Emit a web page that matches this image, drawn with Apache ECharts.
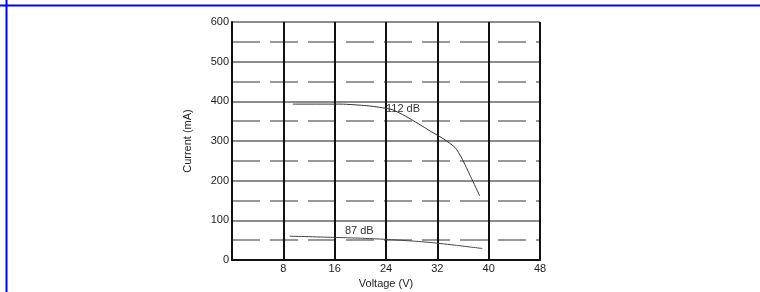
<!DOCTYPE html>
<html>
<head>
<meta charset="utf-8">
<script src="https://cdn.jsdelivr.net/npm/echarts@6/dist/echarts.min.js"></script>
<style>
  html, body { margin: 0; padding: 0; background: #fff; }
  #chart { width: 760px; height: 292px; }
</style>
</head>
<body>
<div id="chart"></div>
<script>
// 112 dB curve
var volt112 = [9.5, 13, 17, 21, 23, 25, 27, 29, 31, 33, 34.8, 35.8, 37.2, 38.6];
var curr112 = [393, 393, 393, 389, 385, 379, 363, 344, 324, 305, 283, 257, 210, 162];
// 87 dB curve
var volt87 = [9, 16, 20, 24, 28, 31, 35, 39];
var curr87 = [60, 57, 55, 52, 48, 44, 37, 29];

var xTicks = [0, 8, 16, 24, 32, 40, 48];
var yTicks = [0, 100, 200, 300, 400, 500, 600];

function pairs(xs, ys) {
  var out = [];
  for (var i = 0; i < xs.length; i++) out.push([xs[i], ys[i]]);
  return out;
}

var myChart = echarts.init(document.getElementById('chart'));

var option = {
  animation: false,
  textStyle: { fontFamily: 'Liberation Sans' },
  grid: { left: 232, right: 220, top: 22, bottom: 32, containLabel: false, outerBoundsMode: 'none' },
  xAxis: {
    type: 'value',
    min: xTicks[0],
    max: xTicks[xTicks.length - 1],
    interval: 8,
    name: 'Voltage (V)',
    nameLocation: 'middle',
    nameGap: 17,
    nameTextStyle: { fontFamily: 'Liberation Sans', fontSize: 11, color: '#222' },
    axisLine: { lineStyle: { color: '#111', width: 2 } },
    axisTick: { show: false },
    axisLabel: {
      fontFamily: 'Liberation Sans', fontSize: 11, color: '#222', margin: 3,
      formatter: function (v) { return v === 0 ? '' : v; }
    },
    splitLine: { show: true, lineStyle: { color: '#111', width: 2 } }
  },
  yAxis: {
    type: 'value',
    min: yTicks[0],
    max: yTicks[yTicks.length - 1],
    interval: 100,
    name: 'Current (mA)',
    nameLocation: 'middle',
    nameGap: 39,
    nameTextStyle: { fontFamily: 'Liberation Sans', fontSize: 11, color: '#222' },
    axisLine: { show: true, lineStyle: { color: '#111', width: 2 } },
    axisTick: { show: false },
    axisLabel: { fontFamily: 'Liberation Sans', fontSize: 11, color: '#222', margin: 3 },
    splitLine: { show: true, lineStyle: { color: '#666', width: 1.5 } },
    minorTick: { show: false, splitNumber: 2 },
    minorSplitLine: { show: true, lineStyle: { color: '#777', width: 1.5, type: [28, 10] } }
  },
  series: [
    {
      name: '112 dB',
      type: 'line',
      data: pairs(volt112, curr112),
      showSymbol: false,
      smooth: 0.2,
      lineStyle: { color: '#333', width: 1 },
      markPoint: {
        symbol: 'circle',
        symbolSize: 0,
        data: [{ coord: [24, 382] }],
        label: { show: true, position: 'right', distance: 0, formatter: '112 dB', fontFamily: 'Liberation Sans', fontSize: 11, color: '#333' }
      }
    },
    {
      name: '87 dB',
      type: 'line',
      data: pairs(volt87, curr87),
      showSymbol: false,
      smooth: 0.2,
      lineStyle: { color: '#444', width: 1 },
      markPoint: {
        symbol: 'circle',
        symbolSize: 0,
        data: [{ coord: [17.6, 72] }],
        label: { show: true, position: 'right', distance: 0, formatter: '87 dB', fontFamily: 'Liberation Sans', fontSize: 11, color: '#333' }
      }
    }
  ],
  graphic: [
    { type: 'line', shape: { x1: 0, y1: 5.5, x2: 760, y2: 5.5 }, style: { stroke: '#0000ff', lineWidth: 2 } },
    { type: 'line', shape: { x1: 6.5, y1: 0, x2: 6.5, y2: 292 }, style: { stroke: '#0000ff', lineWidth: 2 } }
  ]
};

myChart.setOption(option);
</script>
</body>
</html>
